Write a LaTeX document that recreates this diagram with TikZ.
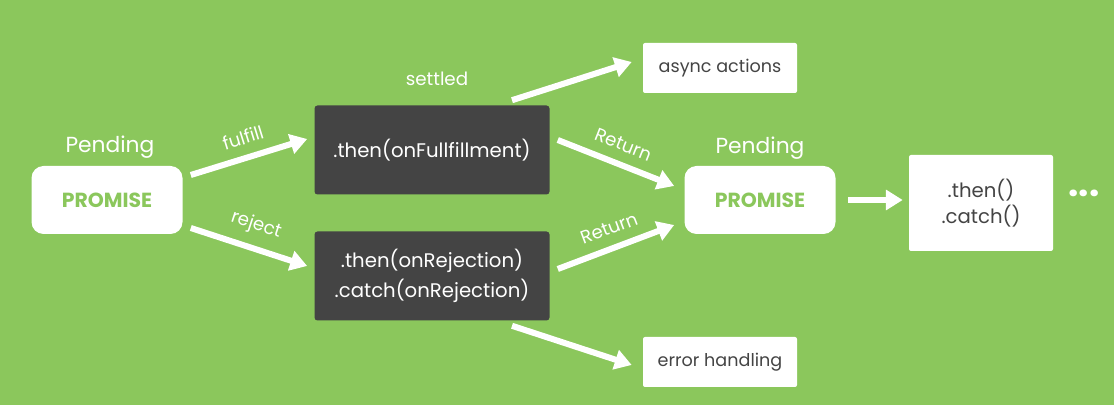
\documentclass[tikz,border=0pt]{standalone}
\usepackage{fontspec}
\setmainfont{Poppins}
\usetikzlibrary{arrows.meta}
\definecolor{leaf}{HTML}{8BC75C}
\definecolor{slate}{HTML}{444444}
\newlength{\px}
\setlength{\px}{0.025cm}

\tikzset{
  promisebox/.style={fill=white, rounded corners=12\px, minimum width=151\px, minimum height=68\px, text=leaf, font=\fontsize{14.5}{16}\selectfont\bfseries},
  codebox/.style={fill=slate, rounded corners=3\px, minimum width=235\px, minimum height=89\px, text=white, align=center, font=\fontsize{14}{21}\selectfont},
  notebox/.style={fill=white, rounded corners=2\px, minimum width=154\px, minimum height=50\px, text=slate, font=\fontsize{12.5}{14}\selectfont},
  arr/.style={draw=white, line width=4.3pt, -{Triangle[length=12pt,width=14pt]}},
  tag/.style={text=white, font=\fontsize{13}{15}\selectfont},
  statelbl/.style={text=white, font=\fontsize{15.5}{17}\selectfont},
}

\begin{document}
\begin{tikzpicture}[x=0.025cm, y=-0.025cm]
	\fill[leaf] (0,0) rectangle (1114,405);
	
	% promises
	\node[promisebox] (promL) at (107,200) {PROMISE};
	\node[statelbl] (pendL) at (110,147) {Pending};
	\node[promisebox] (promR) at (760,200) {PROMISE};
	\node[statelbl] (pendR) at (760,148) {Pending};
	
	% handlers
	\node[codebox] (then) at (432,150) {.then(onFullfillment)};
	\node[codebox] (catch) at (432,276) {.then(onRejection)\\.catch(onRejection)};
	\node[tag] (settled) at (437,79) {settled};
	
	% side boxes
	\node[notebox] (async) at (720,68) {async actions};
	\node[notebox] (err) at (720,362) {error handling};
	\node[notebox, minimum width=144\px, minimum height=96\px, align=center, font=\fontsize{14}{18.5}\selectfont] (chain) at (981,203) {.then()\\.catch()};
	\node[statelbl, font=\fontsize{26}{26}\selectfont\bfseries] (more) at (1084,193) {...};
	
	% arrows
	\draw[arr] ([shift={(8,-25)}]promL.east) -- node[tag, sloped, above=4pt] {fulfill} ([shift={(-7,-11)}]then.west);
	\draw[arr] ([shift={(8,28)}]promL.east) -- node[tag, sloped, above=4pt] {reject} ([shift={(-7,-10)}]catch.west);
	\draw[arr] ([shift={(80,-5)}]then.north) -- ([shift={(-11,-6)}]async.west);
	\draw[arr] ([shift={(80,5)}]catch.south) -- ([shift={(-11,3)}]err.west);
	\draw[arr] ([shift={(8,-10)}]then.east) -- node[tag, sloped, above=4pt] {Return} ([shift={(-10,-14)}]promR.west);
	\draw[arr] ([shift={(8,-7)}]catch.east) -- node[tag, sloped, above=4pt] {Return} ([shift={(-10,25)}]promR.west);
	\draw[arr] ([shift={(12,0)}]promR.east) -- ([shift={(-6,-3)}]chain.west);
\end{tikzpicture}
\end{document}
